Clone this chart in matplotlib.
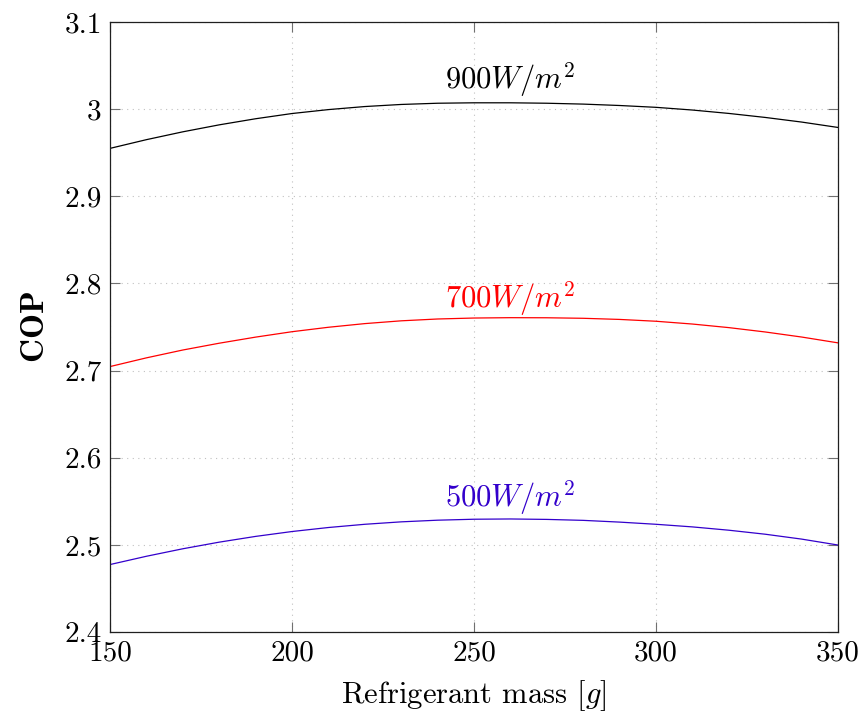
import matplotlib
matplotlib.use("Agg")
import matplotlib.pyplot as plt
from matplotlib.ticker import FuncFormatter

plt.rcParams["font.family"] = ["cmr10", "DejaVu Serif"]
plt.rcParams["mathtext.fontset"] = "cm"
plt.rcParams["axes.formatter.use_mathtext"] = True

# Refrigerant charge [g]
mass = [150, 160, 170, 180, 190, 200, 210, 220, 230, 240, 250,
        260, 270, 280, 290, 300, 310, 320, 330, 340, 350]

# COP for each solar irradiance level
cop_900 = [2.9550, 2.9650, 2.9740, 2.9820, 2.9890, 2.9950, 2.9995, 3.0030, 3.0054, 3.0068, 3.0073,
           3.0073, 3.0068, 3.0058, 3.0042, 3.0021, 2.9990, 2.9951, 2.9905, 2.9852, 2.9790]
cop_700 = [2.7046, 2.7146, 2.7236, 2.7314, 2.7384, 2.7446, 2.7497, 2.7539, 2.7571, 2.7592, 2.7603,
           2.7607, 2.7606, 2.7600, 2.7587, 2.7566, 2.7534, 2.7493, 2.7443, 2.7385, 2.7318]
cop_500 = [2.4774, 2.4869, 2.4955, 2.5031, 2.5097, 2.5153, 2.5199, 2.5236, 2.5264, 2.5283, 2.5294,
           2.5297, 2.5292, 2.5281, 2.5261, 2.5236, 2.5206, 2.5168, 2.5122, 2.5066, 2.4998]

labels = [r"$900W/m^2$", r"$700W/m^2$", r"$500W/m^2$"]
label_x = [260, 260, 260]
label_y = [3.034, 2.783, 2.554]
colors = ["black", "red", "#3300cc"]

x_ticks = [150, 200, 250, 300, 350]
y_ticks = [2.4, 2.5, 2.6, 2.7, 2.8, 2.9, 3.0, 3.1]

fig = plt.figure(figsize=(8.65, 7.15), dpi=100)
ax = fig.add_axes([0.1272, 0.1161, 0.8416, 0.8531])

for y, c, lab, lx, ly in zip([cop_900, cop_700, cop_500], colors, labels, label_x, label_y):
    ax.plot(mass, y, color=c, lw=0.9)
    ax.text(lx, ly, lab, color=c, fontsize=22, ha="center", va="center")

ax.set_xlim(150, 350)
ax.set_ylim(2.4, 3.1)
ax.set_xticks(x_ticks)
ax.set_yticks(y_ticks)
fmt = FuncFormatter(lambda v, p: f"{v:g}")
ax.xaxis.set_major_formatter(fmt)
ax.yaxis.set_major_formatter(fmt)

ax.grid(True, color="#c0c0c0", linestyle=(0, (1, 4)), linewidth=0.8)
ax.tick_params(direction="in", length=7, width=0.8, color="#707070",
               labelsize=21, top=True, right=True, pad=6)
for s in ax.spines.values():
    s.set_linewidth(0.9)
    s.set_color("#202020")

ax.set_xlabel(r"Refrigerant mass $[g]$", fontsize=22, labelpad=8)
ax.set_ylabel(r"$\mathbf{COP}$", fontsize=24, labelpad=10)

fig.savefig("out.png", dpi=100)
